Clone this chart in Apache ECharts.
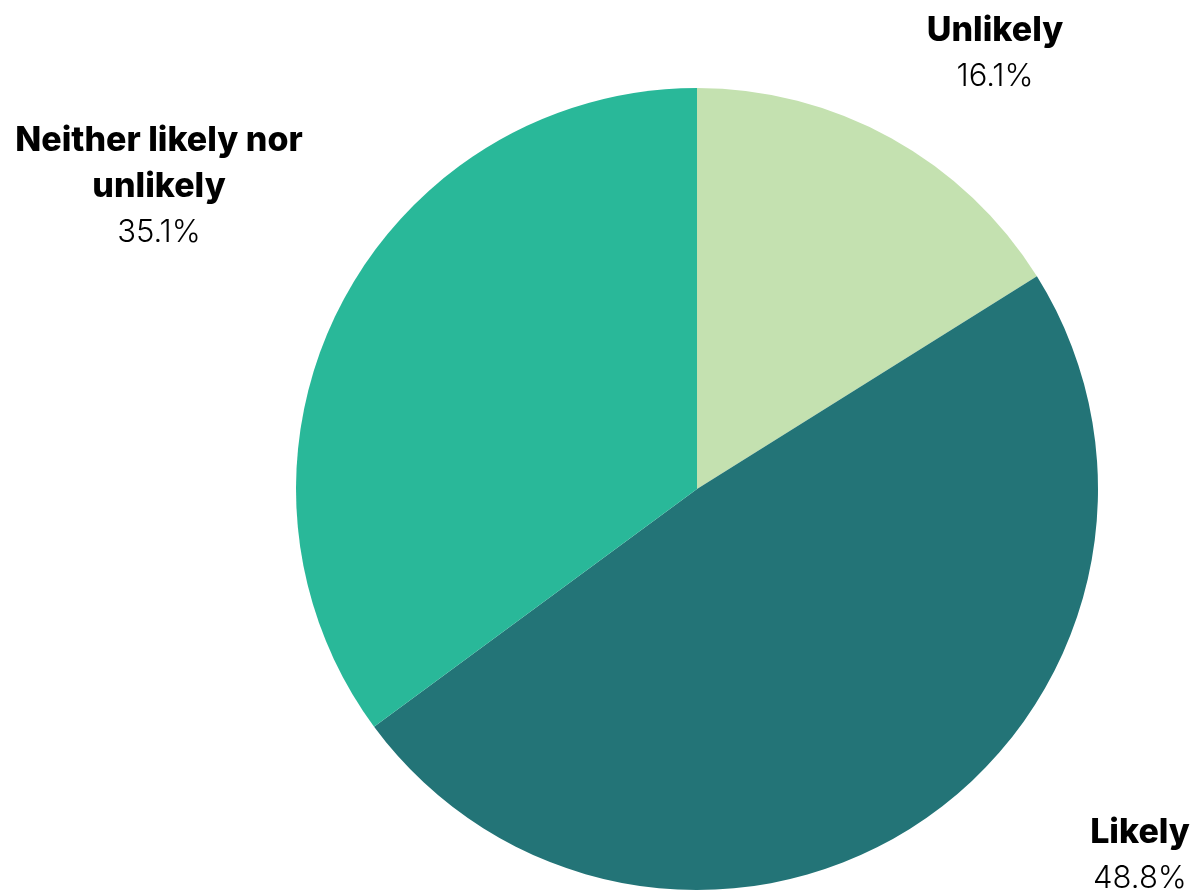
<!DOCTYPE html>
<html>
<head>
<meta charset="utf-8">
<script src="https://cdn.jsdelivr.net/npm/echarts@6/dist/echarts.min.js"></script>
<style>
  html, body { margin: 0; padding: 0; background: #ffffff; }
  #chart { width: 1195px; height: 893px; }
</style>
</head>
<body>
<div id="chart"></div>
<script>
// Survey answers, shares in percent
const categories = ['Unlikely', 'Likely', 'Neither likely nor unlikely'];
const shares = [16.1, 48.8, 35.1];
const colors = ['#c4e1b0', '#237477', '#29b899'];

// Where each slice's caption sits (top-center of the text block)
const labelSpots = [
  { x: 995, y: 8 },
  { x: 1140, y: 810 },
  { x: 159, y: 118 }
];

// Break a long category name onto several lines
function wrapName(name, maxChars) {
  const words = name.split(' ');
  const lines = [];
  let cur = '';
  words.forEach(w => {
    const next = cur ? cur + ' ' + w : w;
    if (next.length > maxChars && cur) { lines.push(cur); cur = w; }
    else cur = next;
  });
  if (cur) lines.push(cur);
  return lines;
}

const chart = echarts.init(document.getElementById('chart'));
chart.setOption({
  animation: false,
  series: [{
    type: 'pie',
    center: [697, 489],
    radius: 401,
    startAngle: 90,
    clockwise: true,
    avoidLabelOverlap: false,
    itemStyle: { borderWidth: 0 },
    labelLine: { show: false },
    label: {
      show: true,
      position: 'outside',
      formatter: p => wrapName(p.name, 18).map(l => '{b|' + l + '}').join('\n') +
        '\n{v|' + p.value.toFixed(1) + '%}',
      rich: {
        b: { fontFamily: 'Inter', fontWeight: 800, fontSize: 34, lineHeight: 46, color: '#000000', align: 'center' },
        v: { fontFamily: 'Inter', fontWeight: 300, fontSize: 31, lineHeight: 46, color: '#000000', align: 'center' }
      }
    },
    labelLayout: p => ({
      x: labelSpots[p.dataIndex].x,
      y: labelSpots[p.dataIndex].y,
      align: 'center',
      verticalAlign: 'top',
      hideOverlap: false
    }),
    data: categories.map((c, i) => ({ name: c, value: shares[i], itemStyle: { color: colors[i] } }))
  }]
});
</script>
</body>
</html>
